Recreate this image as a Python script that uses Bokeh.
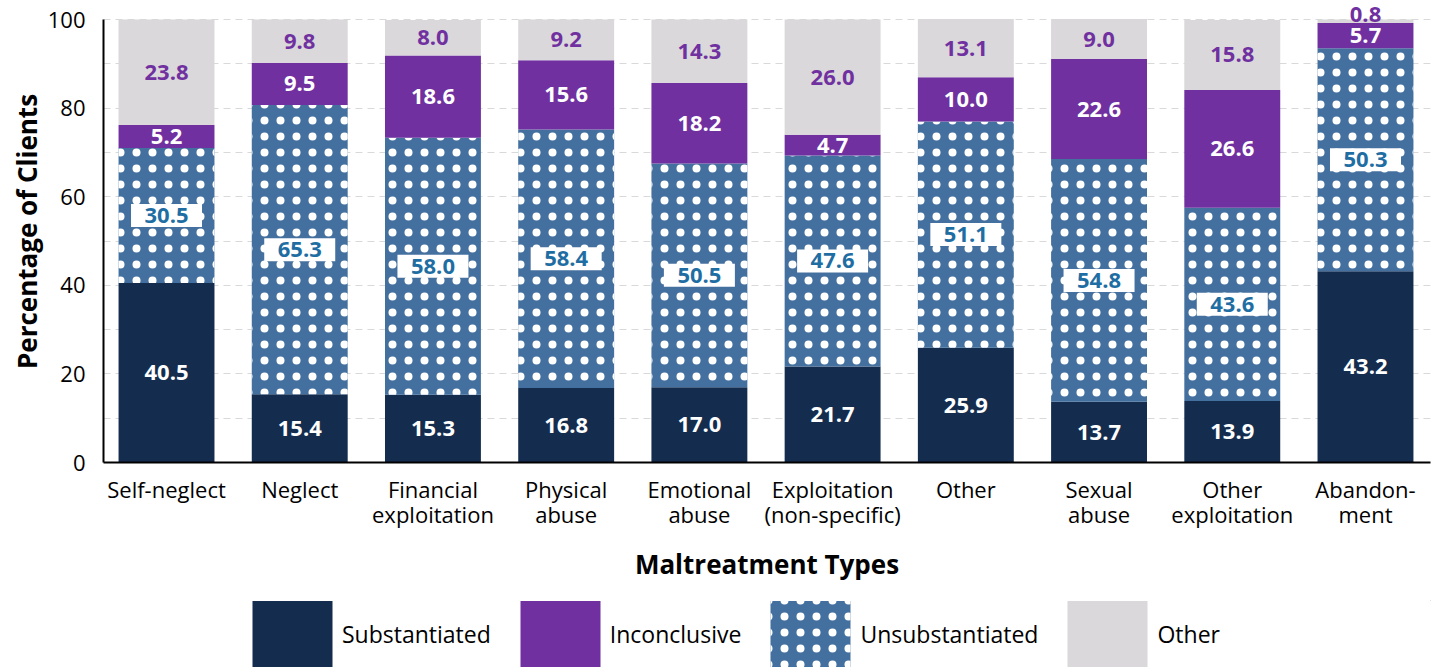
from bokeh.plotting import figure
from bokeh.layouts import column
from bokeh.models import ColumnDataSource, Range1d, FixedTicker, Legend, LegendItem
from bokeh.embed import file_html
from bokeh.resources import INLINE
from bokeh.core.properties import value

categories = ["Self-neglect", "Neglect", "Financial\nexploitation", "Physical\nabuse",
              "Emotional\nabuse", "Exploitation\n(non-specific)", "Other", "Sexual\nabuse",
              "Other\nexploitation", "Abandon-\nment"]
substantiated = [40.5, 15.4, 15.3, 16.8, 17.0, 21.7, 25.9, 13.7, 13.9, 43.2]
unsubstantiated = [30.5, 65.3, 58.0, 58.4, 50.5, 47.6, 51.1, 54.8, 43.6, 50.3]
inconclusive = [5.2, 9.5, 18.6, 15.6, 18.2, 4.7, 10.0, 22.6, 26.6, 5.7]
other = [23.8, 9.8, 8.0, 9.2, 14.3, 26.0, 13.1, 9.0, 15.8, 0.8]
series_names = ["Substantiated", "Inconclusive", "Unsubstantiated", "Other"]
y_ticks = [0, 20, 40, 60, 80, 100]

C_SUB = "#142D4F"
C_INC = "#7030A0"
C_UNS = "#44709F"
C_OTH = "#DAD8DA"
C_LBL_BLUE = "#1F6EA3"
FONT = "Open Sans"

n = len(categories)
xs = list(range(n))
b1 = [0.0] * n
t1 = [b + v for b, v in zip(b1, substantiated)]
t2 = [b + v for b, v in zip(t1, unsubstantiated)]
t3 = [b + v for b, v in zip(t2, inconclusive)]
t4 = [b + v for b, v in zip(t3, other)]

src = ColumnDataSource(dict(x=xs, b1=b1, t1=t1, t2=t2, t3=t3, t4=t4))

p = figure(width=1440, height=600, x_range=Range1d(-0.473, 9.488), y_range=Range1d(0, 104.3),
           output_backend="svg", toolbar_location=None,
           min_border_left=103, min_border_right=10, min_border_top=0, min_border_bottom=138)
p.outline_line_color = None
p.background_fill_color = "white"
p.border_fill_color = "white"

W = 0.72
def bar_style(k):
    if k == 1:
        return dict(fill_color=C_UNS, line_color=None, hatch_pattern="dot",
                    hatch_color="white", hatch_scale=16)
    return dict(fill_color=[C_SUB, C_UNS, C_INC, C_OTH][k], line_color=None)

r_sub = p.vbar(x="x", bottom="b1", top="t1", width=W, source=src, **bar_style(0))
r_uns = p.vbar(x="x", bottom="t1", top="t2", width=W, source=src, **bar_style(1))
r_inc = p.vbar(x="x", bottom="t2", top="t3", width=W, source=src, **bar_style(2))
r_oth = p.vbar(x="x", bottom="t3", top="t4", width=W, source=src, **bar_style(3))

def mids(lo, hi):
    return [(a + b) / 2 for a, b in zip(lo, hi)]

fmt = lambda vals: ["%.1f" % v for v in vals]

lab_common = dict(text_font=value(FONT), text_font_style="bold", text_font_size="22px",
                  text_align="center", text_baseline="middle")

s_sub = ColumnDataSource(dict(x=xs, y=mids(b1, t1), t=fmt(substantiated)))
p.text(x="x", y="y", text="t", source=s_sub, text_color="white", **lab_common)

s_uns = ColumnDataSource(dict(x=xs, y=mids(t1, t2), t=fmt(unsubstantiated)))
p.rect(x="x", y="y", width=71, height=23, width_units="screen", height_units="screen",
       source=s_uns, fill_color="white", line_color=None)
p.text(x="x", y="y", text="t", source=s_uns, text_color=C_LBL_BLUE, **lab_common)

s_inc = ColumnDataSource(dict(x=xs, y=mids(t2, t3), t=fmt(inconclusive)))
p.text(x="x", y="y", text="t", source=s_inc, text_color="white", **lab_common)

oth_y = [m if v >= 3 else top + 1.2 for m, v, top in zip(mids(t3, t4), other, t4)]
s_oth = ColumnDataSource(dict(x=xs, y=oth_y, t=fmt(other)))
p.text(x="x", y="y", text="t", source=s_oth, text_color=C_INC, **lab_common)

# axes
p.xaxis.ticker = FixedTicker(ticks=xs)
p.xaxis.major_label_overrides = {i: c for i, c in enumerate(categories)}
p.xaxis.major_tick_line_color = None
p.xaxis.minor_tick_line_color = None
p.xaxis.axis_line_width = 2
p.xaxis.axis_line_color = "black"
p.xaxis.major_label_text_font = FONT
p.xaxis.major_label_text_font_size = "22px"
p.xaxis.major_label_text_color = "black"
p.xaxis.major_label_text_line_height = 0.85
p.xaxis.major_label_standoff = 5
p.xaxis.axis_label = "Maltreatment Types"
p.xaxis.axis_label_text_font = FONT
p.xaxis.axis_label_text_font_style = "bold"
p.xaxis.axis_label_text_font_size = "26px"
p.xaxis.axis_label_text_color = "black"
p.xaxis.axis_label_standoff = 14

p.yaxis.ticker = FixedTicker(ticks=y_ticks)
p.yaxis.bounds = (0, 100)
p.yaxis.major_tick_line_color = None
p.yaxis.minor_tick_line_color = None
p.yaxis.axis_line_width = 2
p.yaxis.axis_line_color = "black"
p.yaxis.major_label_text_font = FONT
p.yaxis.major_label_text_font_size = "22px"
p.yaxis.major_label_text_color = "black"
p.yaxis.major_label_standoff = 12
p.yaxis.axis_label = "Percentage of Clients"
p.yaxis.axis_label_text_font = FONT
p.yaxis.axis_label_text_font_style = "bold"
p.yaxis.axis_label_text_font_size = "26px"
p.yaxis.axis_label_text_color = "black"
p.yaxis.axis_label_standoff = 0

p.xgrid.grid_line_color = None
p.ygrid.ticker = FixedTicker(ticks=list(range(10, 101, 10)))
p.ygrid.grid_line_color = "#D9D9D9"
p.ygrid.grid_line_dash = "7 5"
p.ygrid.grid_line_width = 1

# legend strip (legend glyphs are drawn inset by 10% on each side)
lg = figure(width=1440, height=67, x_range=Range1d(0, 1), y_range=Range1d(0, 1),
            output_backend="svg", toolbar_location=None,
            x_axis_location=None, y_axis_location=None,
            min_border_left=0, min_border_right=0, min_border_top=0, min_border_bottom=0)
lg.outline_line_color = None
lg.xgrid.visible = False
lg.ygrid.visible = False
offscreen = ColumnDataSource(dict(x=[5.0], b=[5.0], t=[6.0]))
order = [0, 2, 1, 3]  # Substantiated, Inconclusive, Unsubstantiated, Other
items = []
for name, k in zip(series_names, order):
    r = lg.vbar(x="x", bottom="b", top="t", width=0.1, source=offscreen, **bar_style(k))
    items.append(LegendItem(label=name, renderers=[r]))
legend = Legend(items=items, orientation="horizontal", location=(139, -8.6),
                glyph_width=100, glyph_height=84, label_standoff=0, spacing=19,
                padding=0, margin=0, border_line_color=None, background_fill_alpha=0,
                label_text_font=FONT, label_text_font_size="23px", label_text_color="black")
lg.add_layout(legend, "center")

layout = column(p, lg, spacing=0)
open("out.html", "w").write(file_html(layout, INLINE))
